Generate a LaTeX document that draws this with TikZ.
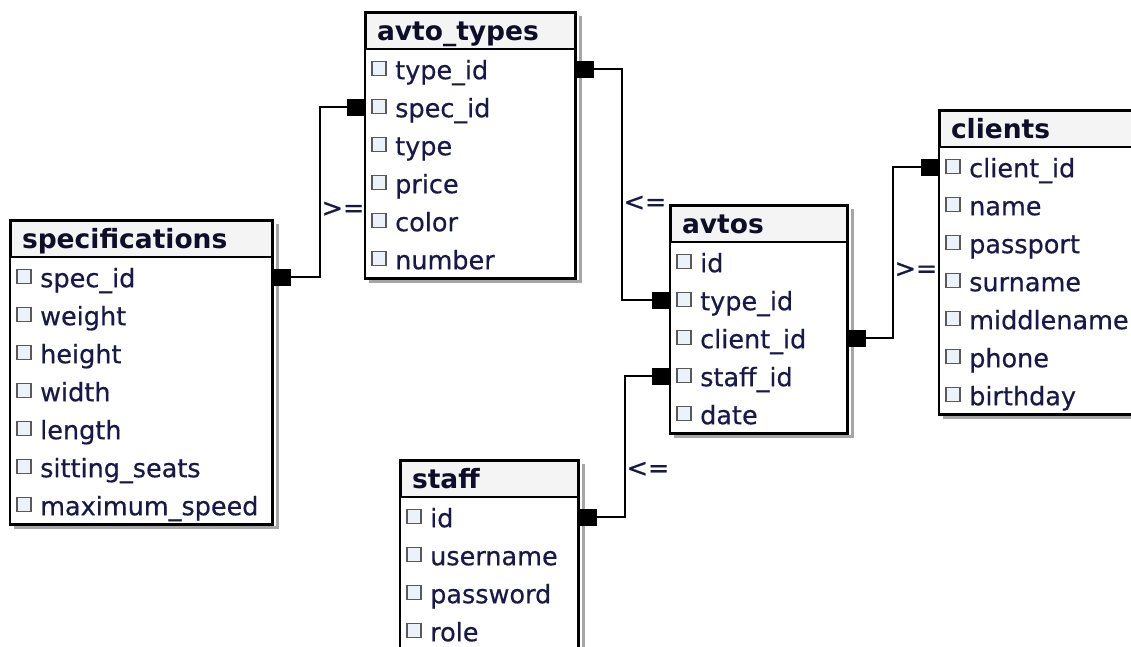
\documentclass[tikz,border=0pt]{standalone}
\usepackage{fontspec}
\setmainfont{DejaVu Sans}
\newfontfamily\fieldfont[FakeBold=0.5]{DejaVu Sans}
\usetikzlibrary{calc}
\definecolor{headfill}{RGB}{244, 244, 244}
\definecolor{headink}{RGB}{14, 14, 40}
\definecolor{fieldink}{RGB}{24, 24, 74}
\definecolor{boxfill}{RGB}{236, 242, 249}
\tikzset{
    tablehead/.style={draw=black, line width=2pt, fill=headfill, inner xsep=11,
        inner ysep=5.5, text height=22, text depth=3, align=left, text=headink,
        font=\fontsize{26.5}{30}\selectfont\bfseries},
    fieldrow/.style={rectangle, minimum height=38, inner sep=0},
    fieldname/.style={anchor=base west, inner sep=0, text=fieldink,
        font=\fieldfont\fontsize{25.5}{30}\selectfont},
    checkbox/.style={draw=black!65, fill=boxfill, line width=1.3pt,
        minimum size=14, inner sep=0},
    tableframe/.style={draw=black, line width=2.4pt},
    tableshadow/.style={draw=black!35, line width=3pt},
    keymark/.style={fill=black, minimum size=17, inner sep=0},
    link/.style={draw=black, line width=1.6pt},
    relation/.style={anchor=west, inner sep=1, text=fieldink,
        font=\fieldfont\fontsize{25.5}{30}\selectfont},
}
% name, left, top, width, title, fields
\newcommand{\dbtable}[6]{%
    \node[tablehead, text width=#4-22, anchor=north west] (#1) at (#2, #3) {#5};
    \foreach \f [count=\i] in {#6} {
        \node[fieldrow, minimum width=#4, anchor=north west] (#1-\i)
            at ($(#1.south west)+(0, {(\i-1)*38})$) {};
        \node[checkbox] at ([xshift=14, yshift=1]#1-\i.west) {};
        \node[fieldname] at ([xshift=30, yshift=-10]#1-\i.west) {\f};
        \xdef\lastrow{\i}
    }
    \draw[tableshadow] ([xshift=3, yshift=-4]#1.north east)
        |- ([xshift=4, yshift=-3]#1-\lastrow.south west);
    \draw[tableframe] (#1.north west) rectangle (#1-\lastrow.south east);
}

\begin{document}
\begin{tikzpicture}[x=1pt, y=-1pt]
    \clip (0, 0) rectangle (1131, 646);
    \dbtable{types}{365}{12}{210}{avto\_types}
        {type\_id, spec\_id, type, price, color, number}
    \dbtable{specs}{10}{220}{262}{specifications}
        {spec\_id, weight, height, width, length, sitting\_seats, maximum\_speed}
    \dbtable{avtos}{670}{205}{177}{avtos}
        {id, type\_id, client\_id, staff\_id, date}
    \dbtable{clients}{939}{110}{200}{clients}
        {client\_id, name, passport, surname, middlename, phone, birthday}
    \dbtable{staff}{400}{460}{178}{staff}
        {id, username, password, role}

    % key markers
    \node[keymark, anchor=west] (specs-key) at ([xshift=1]specs-1.east) {};
    \node[keymark, anchor=east] (types-ref) at ([xshift=-1]types-2.west) {};
    \node[keymark, anchor=west] (types-key) at ([xshift=1]types-1.east) {};
    \node[keymark, anchor=east] (avtos-ref) at ([xshift=-1]avtos-2.west) {};
    \node[keymark, anchor=west] (avtos-key) at ([xshift=1]avtos-3.east) {};
    \node[keymark, anchor=east] (clients-ref) at ([xshift=-1]clients-1.west) {};
    \node[keymark, anchor=west] (staff-key) at ([xshift=1]staff-1.east) {};
    \node[keymark, anchor=east] (avtos-ref2) at ([xshift=-1]avtos-4.west) {};

    % links
    \draw[link] (specs-key.east) -- ++(29, 0) |- (types-ref)
        node[relation, pos=0.2] {>=};
    \draw[link] (types-key.east) -- ++(28, 0) |- (avtos-ref)
        node[relation, pos=0.29] {<=};
    \draw[link] (avtos-key.east) -- ++(27, 0) |- (clients-ref)
        node[relation, pos=0.2] {>=};
    \draw[link] (staff-key.east) -- ++(28, 0) |- (avtos-ref2)
        node[relation, pos=0.17] {<=};
\end{tikzpicture}
\end{document}
